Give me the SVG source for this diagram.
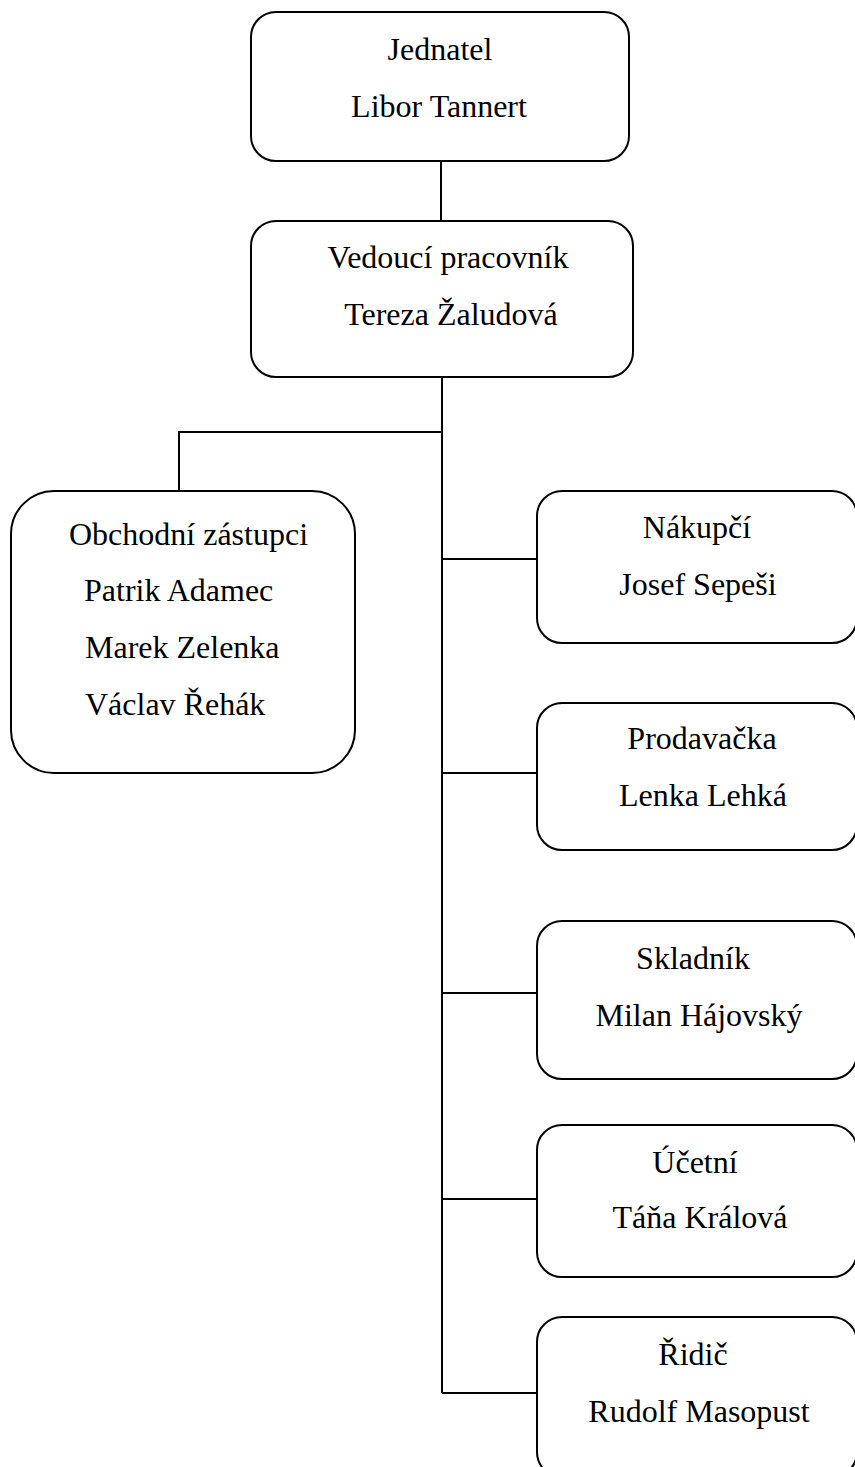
<svg xmlns="http://www.w3.org/2000/svg" width="855" height="1467" viewBox="0 0 855 1467">
<style>
.box{fill:#fff;stroke:#000;stroke-width:2}
.ln{fill:none;stroke:#000;stroke-width:2}
.c{text-anchor:middle}
</style>
<rect width="855" height="1467" fill="#fff"/>
<g id="connectors">
<line class="ln" x1="441" y1="161" x2="441" y2="221"/>
<line class="ln" x1="442" y1="377" x2="442" y2="1393"/>
<polyline class="ln" points="442,432 179,432 179,491"/>
<line class="ln" x1="442" y1="559" x2="537" y2="559"/>
<line class="ln" x1="442" y1="773" x2="537" y2="773"/>
<line class="ln" x1="442" y1="993" x2="537" y2="993"/>
<line class="ln" x1="442" y1="1199" x2="537" y2="1199"/>
<line class="ln" x1="442" y1="1393" x2="537" y2="1393"/>
</g>
<g font-family="Liberation Serif, Times New Roman, serif" font-size="32" fill="#000">
<g id="n-jednatel">
<rect class="box" x="251" y="12" width="378" height="149" rx="25"/>
<text class="c" x="440" y="60">Jednatel</text>
<text class="c" x="439" y="117">Libor Tannert</text>
</g>
<g id="n-vedouci">
<rect class="box" x="251" y="221" width="382" height="156" rx="25"/>
<text class="c" x="448" y="268">Vedoucí pracovník</text>
<text class="c" x="451" y="325">Tereza Žaludová</text>
</g>
<g id="n-obchodni">
<rect class="box" x="11" y="491" width="344" height="282" rx="43"/>
<text x="69" y="545">Obchodní zástupci</text>
<text x="84" y="601">Patrik Adamec</text>
<text x="85" y="658">Marek Zelenka</text>
<text x="85" y="715">Václav Řehák</text>
</g>
<g id="n-nakupci">
<rect class="box" x="537" y="491" width="320" height="152" rx="25"/>
<text class="c" x="697" y="538">Nákupčí</text>
<text class="c" x="698" y="595">Josef Sepeši</text>
</g>
<g id="n-prodavacka">
<rect class="box" x="537" y="703" width="320" height="147" rx="25"/>
<text class="c" x="702" y="749">Prodavačka</text>
<text class="c" x="703" y="806">Lenka Lehká</text>
</g>
<g id="n-skladnik">
<rect class="box" x="537" y="921" width="320" height="158" rx="25"/>
<text class="c" x="693" y="969">Skladník</text>
<text class="c" x="699" y="1026">Milan Hájovský</text>
</g>
<g id="n-ucetni">
<rect class="box" x="537" y="1125" width="320" height="152" rx="25"/>
<text class="c" x="695" y="1173">Účetní</text>
<text class="c" x="700" y="1228">Táňa Králová</text>
</g>
<g id="n-ridic">
<rect class="box" x="537" y="1317" width="320" height="160" rx="25"/>
<text class="c" x="693" y="1365">Řidič</text>
<text class="c" x="699" y="1422">Rudolf Masopust</text>
</g>
</g>
</svg>
